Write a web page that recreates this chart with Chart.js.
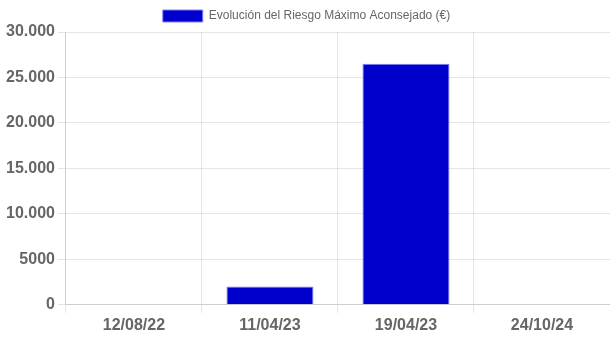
<!DOCTYPE html>
<html><head><meta charset="utf-8">
<script src="https://cdn.jsdelivr.net/npm/chart.js@4/dist/chart.umd.min.js"></script>
<style>html,body{margin:0;padding:0;background:#fff}#w{width:610px;height:339px}</style>
</head><body><div id="w"><canvas id="c"></canvas></div>
<script>
const categories = ['12/08/22', '11/04/23', '19/04/23', '24/10/24'];
const riesgoValues = [0, 2000, 26500, 0];
const seriesLabel = 'Evolución del Riesgo Máximo Aconsejado (€)';

Chart.defaults.font.family = "'Liberation Sans', Arial, sans-serif";
Chart.defaults.color = '#666';
new Chart(document.getElementById('c'), {
  type: 'bar',
  data: {
    labels: categories,
    datasets: [{
      label: seriesLabel,
      data: riesgoValues,
      backgroundColor: '#0000cc',
      borderColor: '#8080ff',
      borderWidth: 1,
      barPercentage: 0.8,
      categoryPercentage: 0.8
    }]
  },
  options: {
    locale: 'es-ES',
    responsive: true,
    maintainAspectRatio: false,
    animation: false,
    layout: { padding: { left: 3, bottom: 1 } },
    plugins: {
      legend: {
        labels: { boxWidth: 40, boxHeight: 12, font: { size: 12 }, color: '#666' }
      },
      tooltip: { enabled: false }
    },
    scales: {
      x: {
        grid: { color: 'rgba(0,0,0,0.1)' },
        ticks: { font: { size: 16, weight: 'bold' }, color: '#666' }
      },
      y: {
        min: 0, max: 30000,
        grid: { color: 'rgba(0,0,0,0.1)' },
        ticks: { stepSize: 5000, padding: 3, font: { size: 16, weight: 'bold' }, color: '#666' }
      }
    }
  }
});
</script></body></html>
